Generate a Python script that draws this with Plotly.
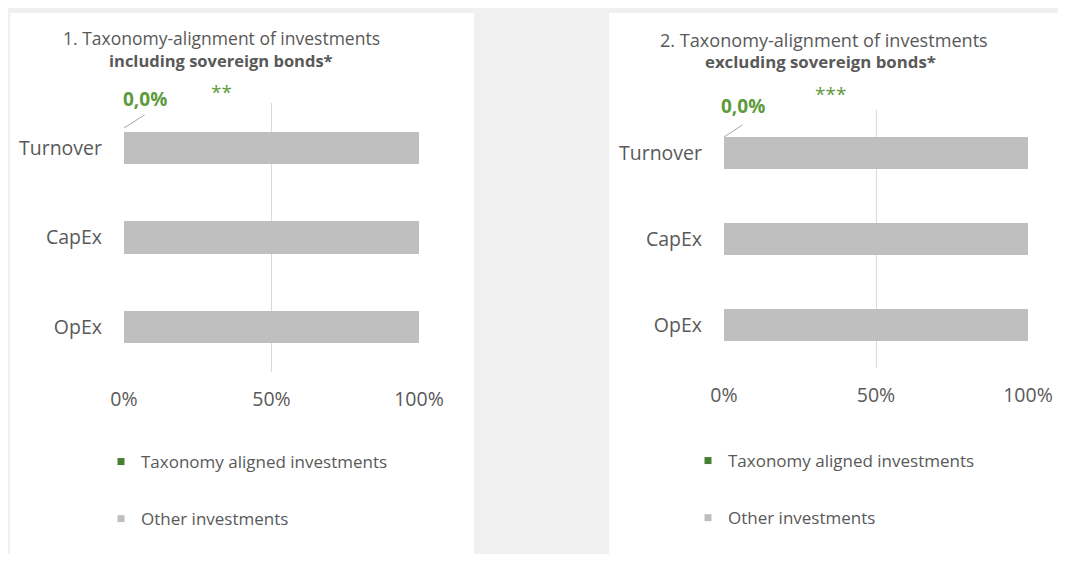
import plotly.graph_objects as go

categories = ["Turnover", "CapEx", "OpEx"]
aligned_incl = [0.0, 0.0, 0.0]
other_incl = [100.0, 100.0, 100.0]
aligned_excl = [0.0, 0.0, 0.0]
other_excl = [100.0, 100.0, 100.0]
x_ticks = [0, 50, 100]
x_tick_labels = ["0%", "50%", "100%"]
series_names = ["Taxonomy aligned investments", "Other investments"]
title_line1 = ["1. Taxonomy-alignment of investments", "2. Taxonomy-alignment of investments"]
title_line2 = ["including sovereign bonds*", "excluding sovereign bonds*"]
stars = ["**", "***"]

OFF = 8  # page body margin offset
W, H = 1066 - 2 * OFF, 562 - 2 * OFF
GREEN = "#467f33"
GREEN_TXT = "#5e9b3c"
GREY = "#bfbfbf"
TXT = "#595959"
FONT = "Open Sans"


def px(x):
    return (x - OFF) / W


def py(y):
    return 1 - (y - OFF) / H


fig = go.Figure()

panels = [
    dict(al=aligned_incl, ot=other_incl, xa="x", ya="y", leg="legend",
         xdom=[px(124), px(419)], ydom=[py(372), py(103)], bw=0.357,
         t1size=17.5, t2size=16.5),
    dict(al=aligned_excl, ot=other_excl, xa="x2", ya="y2", leg="legend2",
         xdom=[px(724), px(1028)], ydom=[py(368), py(110)], bw=0.372,
         t1size=18.1, t2size=16.8),
]

for p in panels:
    fig.add_trace(go.Bar(y=categories, x=p["al"], orientation="h", name=series_names[0],
                         marker=dict(color=GREEN, line=dict(width=0)), width=p["bw"],
                         xaxis=p["xa"], yaxis=p["ya"], showlegend=False))
    fig.add_trace(go.Bar(y=categories, x=p["ot"], orientation="h", name=series_names[1],
                         marker=dict(color=GREY, line=dict(width=0)), width=p["bw"],
                         xaxis=p["xa"], yaxis=p["ya"], showlegend=False))
    for name, col in zip(series_names, [GREEN, GREY]):
        fig.add_trace(go.Scatter(x=[None], y=[None], mode="markers", name=name,
                                 marker=dict(symbol="square", size=7, color=col),
                                 xaxis=p["xa"], yaxis=p["ya"], legend=p["leg"],
                                 legendgroup=name + p["xa"]))

axis_common_x = dict(range=[0, 100], tickvals=x_ticks, ticktext=x_tick_labels,
                     showgrid=True, gridcolor="#d9d9d9", gridwidth=1, zeroline=False,
                     showline=False, ticks="", tickfont=dict(family=FONT, size=19.5, color=TXT),
                     ticklabelstandoff=13, fixedrange=True)
axis_common_y = dict(categoryorder="array", categoryarray=categories[::-1], range=[-0.5, 2.5],
                     showgrid=False, zeroline=False, showline=False, ticks="",
                     tickfont=dict(family=FONT, size=19.5, color=TXT), ticklabelstandoff=21,
                     fixedrange=True)

legend_common = dict(xanchor="left", yanchor="top", bgcolor="rgba(0,0,0,0)",
                     font=dict(family=FONT, size=17, color=TXT), tracegroupgap=32,
                     traceorder="grouped")

fig.update_layout(
    width=W, height=H,
    margin=dict(l=0, r=0, t=0, b=0, autoexpand=False),
    paper_bgcolor="#f0f0f0",
    plot_bgcolor="rgba(0,0,0,0)",
    barmode="stack",
    xaxis=dict(domain=panels[0]["xdom"], anchor="y", **axis_common_x),
    yaxis=dict(domain=panels[0]["ydom"], anchor="x", **axis_common_y),
    xaxis2=dict(domain=panels[1]["xdom"], anchor="y2", **axis_common_x),
    yaxis2=dict(domain=panels[1]["ydom"], anchor="x2", **axis_common_y),
    legend=dict(x=px(101), y=py(444), **legend_common),
    legend2=dict(x=px(688), y=py(443), **legend_common),
    shapes=[
        dict(type="rect", xref="paper", yref="paper", x0=px(10), x1=px(474), y0=0, y1=py(13),
             fillcolor="white", line=dict(width=0), layer="below"),
        dict(type="rect", xref="paper", yref="paper", x0=px(609), x1=1, y0=py(556), y1=py(13),
             fillcolor="white", line=dict(width=0), layer="below"),
    ],
)

annotations = []
t1_pos = [(221, 38), (824, 40)]
t2_pos = [(221, 60), (820, 62)]
star_pos = [(221, 92), (830, 94)]
label_pos = [(145, 99), (743, 106)]
arrow_ends = [((123, 128), (145, 114)), ((723, 137), (743, 124))]
for i, p in enumerate(panels):
    x1, y1 = t1_pos[i]
    annotations.append(dict(text=title_line1[i], x=px(x1), y=py(y1), xref="paper", yref="paper",
                            showarrow=False, font=dict(family=FONT, size=p["t1size"], color=TXT),
                            xanchor="center", yanchor="middle"))
    x2, y2 = t2_pos[i]
    annotations.append(dict(text="<b>" + title_line2[i] + "</b>", x=px(x2), y=py(y2),
                            xref="paper", yref="paper", showarrow=False,
                            font=dict(family=FONT, size=p["t2size"], color=TXT),
                            xanchor="center", yanchor="middle"))
    sx, sy = star_pos[i]
    annotations.append(dict(text=stars[i], x=px(sx), y=py(sy), xref="paper", yref="paper",
                            showarrow=False, xanchor="center", yanchor="middle",
                            font=dict(family=FONT, size=19, color=GREEN_TXT)))
    val = p["al"][0]
    lx, ly = label_pos[i]
    annotations.append(dict(text="<b>" + f"{val:.1f}%".replace(".", ",") + "</b>",
                            x=px(lx), y=py(ly), xref="paper", yref="paper", showarrow=False,
                            xanchor="center", yanchor="middle",
                            font=dict(family=FONT, size=19, color=GREEN_TXT)))
    (ax0, ay0), (ax1, ay1) = arrow_ends[i]
    annotations.append(dict(text="", x=val, xref=p["xa"], y=py(ay0), yref="paper",
                            showarrow=True, arrowhead=0, arrowwidth=1, arrowcolor="#a6a6a6",
                            ax=ax1 - ax0, ay=ay1 - ay0))
fig.update_layout(annotations=annotations)

fig.write_html("out.html")
